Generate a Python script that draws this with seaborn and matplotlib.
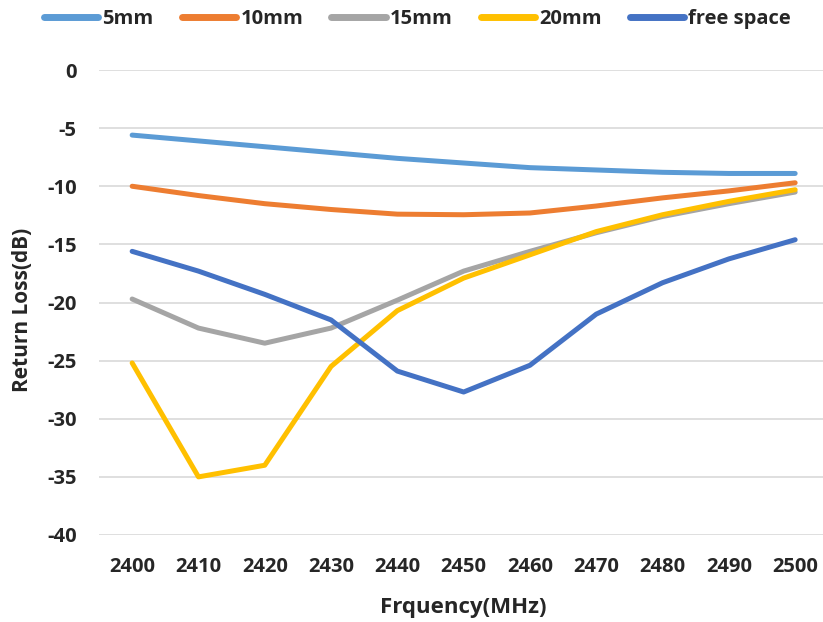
import matplotlib
matplotlib.use("Agg")
import matplotlib.pyplot as plt
import numpy as np
import pandas as pd
import seaborn as sns

# Return loss of the antenna at several spacings, 2400-2500 MHz
freqs = [2400, 2410, 2420, 2430, 2440, 2450, 2460, 2470, 2480, 2490, 2500]
rl_5mm = [-5.6, -6.1, -6.6, -7.1, -7.6, -8.0, -8.4, -8.6, -8.8, -8.9, -8.9]
rl_10mm = [-10.0, -10.8, -11.5, -12.0, -12.4, -12.45, -12.3, -11.7, -11.0, -10.4, -9.7]
rl_15mm = [-19.7, -22.2, -23.5, -22.2, -19.8, -17.3, -15.6, -14.0, -12.6, -11.5, -10.5]
rl_20mm = [-25.2, -35.0, -34.0, -25.5, -20.7, -17.9, -15.9, -13.9, -12.45, -11.3, -10.3]
rl_free = [-15.6, -17.3, -19.3, -21.5, -25.9, -27.7, -25.4, -21.0, -18.3, -16.25, -14.6]

series_names = ["5mm", "10mm", "15mm", "20mm", "free space"]
series_values = [rl_5mm, rl_10mm, rl_15mm, rl_20mm, rl_free]
colors = ["#5B9BD5", "#ED7D31", "#A5A5A5", "#FFC000", "#4472C4"]
y_ticks = [0, -5, -10, -15, -20, -25, -30, -35, -40]

rows = []
for name, vals in zip(series_names, series_values):
    for i, (f, v) in enumerate(zip(freqs, vals)):
        rows.append({"idx": i, "freq": f, "rl": v, "series": name})
df = pd.DataFrame(rows)

sns.set_style("white")
plt.rcParams["font.family"] = ["Open Sans", "DejaVu Sans"]
plt.rcParams["font.weight"] = "bold"

W, H = 823, 622
fig = plt.figure(figsize=(W / 100, H / 100), dpi=100)
ax = fig.add_axes([99 / W, 1 - 535 / H, 724 / W, (535 - 70) / H])

sns.lineplot(data=df, x="idx", y="rl", hue="series", hue_order=series_names,
             palette=colors, linewidth=3.6, ax=ax, legend=True)
for line in ax.get_lines():
    line.set_solid_capstyle("round")
    line.set_solid_joinstyle("round")

ax.set_xlim(-0.5, 10.42)
ax.set_ylim(-40, 0)
ax.set_yticks(y_ticks)
ax.set_yticklabels([str(t) for t in y_ticks])
ax.set_xticks(range(len(freqs)))
ax.set_xticklabels([str(f) for f in freqs])
ax.yaxis.grid(True, color="#D9D9D9", linewidth=1.2)
ax.set_axisbelow(True)
for s in ax.spines.values():
    s.set_visible(False)
ax.tick_params(axis="both", length=0, labelsize=14.5)
ax.tick_params(axis="y", pad=16)
ax.tick_params(axis="x", pad=16)
for lab in ax.get_xticklabels() + ax.get_yticklabels():
    lab.set_fontweight("bold")

ax.set_xlabel("Frquency(MHz)", fontsize=16, fontweight="bold")
ax.set_ylabel("Return Loss(dB)", fontsize=15, fontweight="bold")
ax.xaxis.set_label_coords((463 - 99) / 724, -(607 - 535) / (535 - 70))
ax.yaxis.set_label_coords(-(99 - 23) / 724, (535 - 310) / (535 - 70))
ax.xaxis.label.set_va("center")
ax.yaxis.label.set_va("center")

handles, labels = ax.get_legend_handles_labels()
for h in handles:
    h.set_linewidth(5)
    h.set_solid_capstyle("round")
leg = fig.legend(handles, labels, loc="center left",
                 bbox_to_anchor=(44 / W, 1 - 19 / H),
                 ncol=5, frameon=False, fontsize=14.5, handlelength=2.7,
                 handletextpad=0.2, columnspacing=1.4, borderpad=0,
                 borderaxespad=0)
for t in leg.get_texts():
    t.set_fontweight("bold")
ax.get_legend().remove()

fig.savefig("out.png", dpi=100)
